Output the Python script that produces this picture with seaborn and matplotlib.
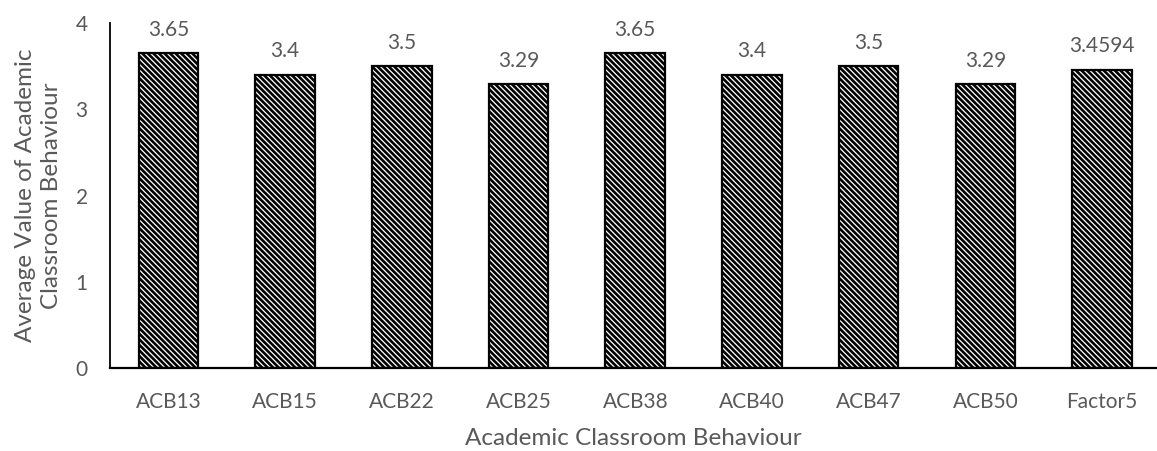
import matplotlib
matplotlib.use("Agg")
import matplotlib.pyplot as plt
import seaborn as sns
import pandas as pd

categories = ["ACB13", "ACB15", "ACB22", "ACB25", "ACB38", "ACB40", "ACB47", "ACB50", "Factor5"]
values = [3.65, 3.4, 3.5, 3.29, 3.65, 3.4, 3.5, 3.29, 3.4594]
value_labels = ["3.65", "3.4", "3.5", "3.29", "3.65", "3.4", "3.5", "3.29", "3.4594"]

sns.set_theme(style="white")
plt.rcParams["font.family"] = ["Lato", "DejaVu Sans"]
plt.rcParams["hatch.linewidth"] = 1.9

df = pd.DataFrame({"item": categories, "value": values})

fig = plt.figure(figsize=(11.57, 4.51), dpi=100)
ax = fig.add_axes([110 / 1157, 83 / 451, 1047 / 1157, 345 / 451])

sns.barplot(data=df, x="item", y="value", color="white", edgecolor="black",
            linewidth=1.6, width=0.51, saturation=1, ax=ax)
for p in ax.patches:
    p.set_hatch("\\\\\\\\\\\\")
    p.set_facecolor("white")

grey = "#595959"
for i, (v, t) in enumerate(zip(values, value_labels)):
    ax.annotate(t, (i, v), xytext=(0, 17), textcoords="offset points",
                ha="center", va="center", fontsize=15, color=grey)

ax.set_xlim(-0.5, 8.47)
ax.set_ylim(0, 4)
ax.set_yticks([0, 1, 2, 3, 4])
ax.set_yticklabels(["0", "1", "2", "3", "4"])
ax.tick_params(axis="y", length=0, pad=16, labelsize=15, labelcolor=grey)
ax.tick_params(axis="x", length=0, pad=17, labelsize=15, labelcolor=grey)

ax.set_xlabel("Academic Classroom Behaviour", fontsize=17.5, color=grey, labelpad=12)
ax.set_ylabel("Average Value of Academic\nClassroom Behaviour", fontsize=17.5,
              color=grey, labelpad=10, linespacing=1.3)

for side in ["top", "right"]:
    ax.spines[side].set_visible(False)
ax.spines["left"].set_color("black")
ax.spines["left"].set_linewidth(1.3)
ax.spines["bottom"].set_color("black")
ax.spines["bottom"].set_linewidth(1.6)
ax.spines["bottom"].set_zorder(5)

fig.savefig("out.png", dpi=100)
